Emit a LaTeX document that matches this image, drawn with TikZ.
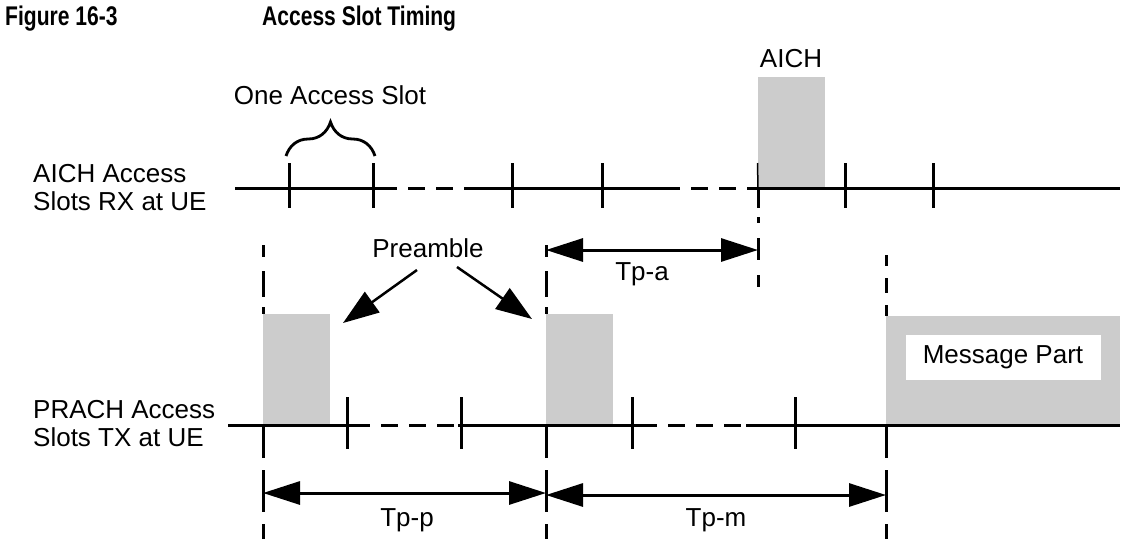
\documentclass[tikz,border=0pt]{standalone}
\usepackage{fontspec}
\setmainfont{Liberation Sans}
\newfontfamily\titlefont[FakeStretch=0.78]{Liberation Sans}
\usetikzlibrary{arrows.meta,positioning,decorations.pathreplacing}
\definecolor{slotGray}{RGB}{204,204,204}

\begin{document}
\begin{tikzpicture}[x=1pt,y=-1pt,
    axis/.style={line width=3pt},
    gapline/.style={line width=3pt, dash pattern=on 17pt off 11pt},
    tick/.style={line width=3pt},
    burst/.style={fill=slotGray},
    span/.style={{Triangle[length=37pt,width=23pt]}-{Triangle[length=37pt,width=23pt]}, line width=3pt},
    callout/.style={-{Triangle[length=36pt,width=25pt]}, line width=2.5pt},
    lbl/.style={font=\fontsize{26}{28}\selectfont, inner sep=0pt},
    ttl/.style={font=\titlefont\bfseries\fontsize{27}{30}\selectfont, inner sep=0pt, anchor=base west}]

    \useasboundingbox (0,0) rectangle (1122,539);

    % Title
    \node[ttl] (fignum) at (5,25) {Figure 16-3};
    \node[ttl] (figttl) at (262,25) {Access Slot Timing};

    % Row labels
    \node[lbl, anchor=base west] (aichA) at (33,182) {AICH Access};
    \node[lbl, anchor=base west] (aichB) at (33,210) {Slots RX at UE};
    \node[lbl, anchor=base west] (prachA) at (33,418) {PRACH Access};
    \node[lbl, anchor=base west] (prachB) at (33,446) {Slots TX at UE};

    % Grey bursts
    \fill[burst] (758,77) rectangle (825,188);
    \fill[burst] (263,314) rectangle (330,425);
    \fill[burst] (546,314) rectangle (613,425);
    \fill[burst] (886,316) rectangle (1120,425);
    \node[lbl, fill=white, minimum width=195pt, minimum height=45pt] (msg) at (1003,357) {Message Part};
    \node[lbl, anchor=base] (aichLbl) at (791,67) {AICH};

    % AICH slot line
    \draw[axis] (235,188) -- (380,188);
    \draw[gapline] (380,188) -- (472,188);
    \draw[axis] (472,188) -- (663,188);
    \draw[gapline] (663,188) -- (757,188);
    \draw[axis] (757,188) -- (1120,188);
    \foreach \x in {289,373,512,602,845,933}
      \draw[tick] (\x,163) -- (\x,208);

    % PRACH slot line
    \draw[axis] (228,425) -- (353,425);
    \draw[gapline] (353,425) -- (458,425);
    \draw[axis] (458,425) -- (640,425);
    \draw[gapline] (640,425) -- (746,425);
    \draw[axis] (746,425) -- (1120,425);
    \foreach \x in {347,461,632,795}
      \draw[tick] (\x,397) -- (\x,449);

    % Timing markers
    \coordinate (pA) at (263,425);
    \coordinate (pB) at (546,425);
    \coordinate (pC) at (886,425);
    \coordinate (aA) at (758,188);
    \draw[line width=3pt, dash pattern=on 12pt off 14pt on 26pt off 10pt] (263,245) -- (263,314);
    \draw[line width=3pt, dash pattern=on 12pt off 14pt on 26pt off 10pt] (546,245) -- (546,314);
    \draw[line width=3pt, dash pattern=on 11pt off 12pt on 15pt off 12pt] (886,255) -- (886,316);
    \foreach \m in {pA,pB,pC}
      \draw[line width=3pt, dash pattern=on 33pt off 12pt on 42pt off 12pt] (\m) -- ++(0,114);
    \draw[line width=3pt, dash pattern=on 20pt off 9pt on 6pt off 15pt on 22pt off 15pt on 12pt off 20pt] (aA) -- ++(0,100);
    \draw[line width=1.5pt] (757.5,163) -- (aA);

    % One access slot
    \draw[line width=2.8pt, decorate, decoration={brace, amplitude=34pt}] (286,156) -- (375,156);
    \node[lbl, anchor=base] (slotLbl) at (330,104) {One Access Slot};

    % Preamble callouts
    \node[lbl, anchor=base] (pre) at (428,257) {Preamble};
    \coordinate (preL) at (343,323);
    \coordinate (preR) at (532,319);
    \draw[callout] (417,270) -- (preL);
    \draw[callout] (457,267) -- (preR);

    % Durations
    \coordinate (tpaL) at (546,250);
    \coordinate (tpaR) at (758,250);
    \draw[span] (tpaL) -- (tpaR);
    \node[lbl, anchor=base] (tpa) at (642,280) {Tp-a};

    \coordinate (tppL) at (263,493);
    \coordinate (tppR) at (546,493);
    \coordinate (tpmL) at (546,495);
    \coordinate (tpmR) at (886,495);
    \draw[span] (tppL) -- (tppR);
    \draw[span] (tpmL) -- (tpmR);
    \node[lbl, anchor=base] (tpp) at (407,526) {Tp-p};
    \node[lbl, anchor=base] (tpm) at (716,526) {Tp-m};

\end{tikzpicture}
\end{document}
